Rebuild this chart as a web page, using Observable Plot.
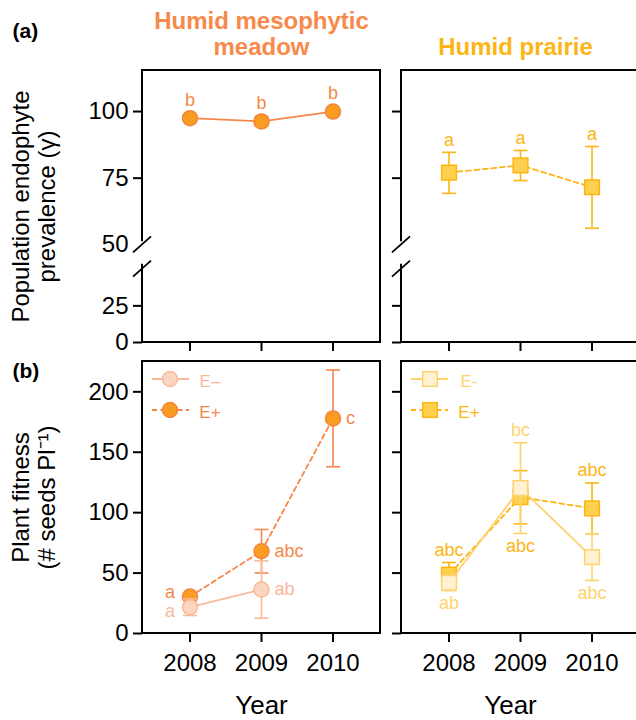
<!DOCTYPE html>
<html><head><meta charset="utf-8">
<script src="https://cdn.jsdelivr.net/npm/d3@7"></script>
<script src="https://cdn.jsdelivr.net/npm/@observablehq/plot@0.6"></script>
<style>
html,body{margin:0;padding:0;background:#fff;overflow:hidden}
#fig{position:relative;width:636px;height:720px;overflow:hidden}
#fig svg{position:absolute}
</style></head><body><div id="fig"></div>
<script>
// ---------------- data ----------------
const years = [2008, 2009, 2010];
const panelTitleMeadow = ["Humid mesophytic", "meadow"];
const panelTitlePrairie = "Humid prairie";
const prevalenceTicks = [0, 25, 50, 75, 100];
const fitnessTicks = [0, 50, 100, 150, 200];
const seriesLabelsMeadow = ["E\u2013", "E+"];
const seriesLabelsPrairie = ["E-", "E+"];

// (a) population endophyte prevalence
const meadowPrev = [97.5, 96.3, 100.0];
const meadowPrevErr = [1.0, 1.8, 0.0];
const meadowPrevLetters = ["b", "b", "b"];
const prairiePrev = [77.1, 79.8, 71.6];
const prairiePrevLo = [69.3, 74.1, 56.2];
const prairiePrevHi = [84.7, 85.4, 86.9];
const prairiePrevLetters = ["a", "a", "a"];

// (b) plant fitness
const meadowFitYearsEminus = [2008, 2009];
const meadowFitEminus = [21.8, 36.4];
const meadowFitEminusErr = [6.9, 23.7];
const meadowFitEminusLetters = ["a", "ab"];
const meadowFitEplus = [30.6, 68.1, 178.0];
const meadowFitEplusErr = [2.0, 18.0, 40.0];
const meadowFitEplusLetters = ["a", "abc", "c"];
const prairieFitEminus = [42.0, 120.3, 63.2];
const prairieFitEminusErr = [6.5, 37.5, 19.3];
const prairieFitEminusLetters = ["ab", "bc", "abc"];
const prairieFitEplus = [48.8, 112.8, 103.5];
const prairieFitEplusErr = [10.0, 22.0, 21.0];
const prairieFitEplusLetters = ["abc", "abc", "abc"];

// ---------------- styling ----------------
const FONT = '"Liberation Sans", Arial, Helvetica, sans-serif';
const C = {
  meadowTitle: "#F7894A",
  mPlus: "#F5874A", mPlusFill: "#FA9B22", mPlusStroke: "#F5843C",
  mMinus: "#F9B898", mMinusFill: "#FDD6C2",
  prairieTitle: "#FDB515",
  pPlus: "#FDB515", pPlusFill: "#FFD04E",
  pMinus: "#FDD36E", pMinusFill: "#FFF1D2"
};
const DASH = "5,3.5";
const xDomain = [2007.336, 2010.664];
const brkValue = 50;
const prevY = {type: "linear", domain: [0, brkValue - 0.001, brkValue, 115.4], range: [342, 268.7, 244.3, 70]};
const noLabel = () => "";

// placement of significance letters (layout, not data)
const placeMeadowPlus = ["left", "right", "right"];
const placeMeadowMinus = ["left", "right"];
const placePrairiePlus = ["above", "below", "above"];
const placePrairieMinus = ["below", "above", "below"];

const capSymbol = {draw(ctx, size) { const r = Math.sqrt(size / Math.PI); ctx.moveTo(-r, 0); ctx.lineTo(r, 0); }};

function rows(xs, vals, lo, hi, letters) {
  return xs.map((year, i) => ({i, year, value: vals[i], lo: lo[i], hi: hi[i], letter: letters[i]}));
}
function symRows(xs, vals, err, letters) {
  return rows(xs, vals, vals.map((v, i) => v - err[i]), vals.map((v, i) => v + err[i]), letters);
}

function frameMark({right = true, brk = false} = {}) {
  return (index, scales, values, dims) => {
    const {width, height, marginLeft: ml, marginRight: mr, marginTop: mt, marginBottom: mb} = dims;
    const x0 = ml, x1 = width - mr, y0 = mt, y1 = height - mb;
    const g = d3.create("svg:g").attr("fill", "none").attr("stroke", "#000").attr("stroke-width", 2).attr("stroke-linecap", "square");
    const seg = (a, b, c, d) => g.append("line").attr("x1", a).attr("y1", b).attr("x2", c).attr("y2", d);
    seg(x0, y0, x1, y0);
    seg(x0, y1, x1, y1);
    if (right) seg(x1, y0, x1, y1);
    if (brk) {
      const yU = scales.y(brkValue), yL = scales.y(brkValue - 0.001);
      seg(x0, y0, x0, yU - 4);
      seg(x0, yL - 4, x0, y1);
      g.append("line").attr("x1", x0 - 9).attr("y1", yU + 8).attr("x2", x0 + 9).attr("y2", yU - 8).attr("stroke-linecap", "butt").attr("stroke-width", 1.8);
      g.append("line").attr("x1", x0 - 9).attr("y1", yL + 8).attr("x2", x0 + 9).attr("y2", yL - 8).attr("stroke-linecap", "butt").attr("stroke-width", 1.8);
    } else seg(x0, y0, x0, y1);
    return g.node();
  };
}

function legendMark(items, square) {
  return (index, scales, values, dims) => {
    const g = d3.create("svg:g");
    const x0 = dims.marginLeft, y0 = dims.marginTop;
    items.forEach((it, k) => {
      const y = y0 + 18 + k * 31;
      g.append("line").attr("x1", x0 + 10).attr("x2", x0 + 47).attr("y1", y).attr("y2", y)
        .attr("stroke", it.line).attr("stroke-width", 1.8).attr("stroke-dasharray", it.dash || null);
      if (square) {
        g.append("rect").attr("x", x0 + 29 - 7.3).attr("y", y - 7.3).attr("width", 14.6).attr("height", 14.6)
          .attr("fill", it.fill).attr("stroke", it.stroke).attr("stroke-width", 1.5);
      } else {
        g.append("circle").attr("cx", x0 + 28).attr("cy", y).attr("r", 7.5)
          .attr("fill", it.fill).attr("stroke", it.stroke).attr("stroke-width", 1.5);
      }
      g.append("text").attr("x", x0 + 68).attr("y", y + 2).attr("dy", "0.35em").attr("font-size", 17)
        .attr("font-family", FONT).attr("fill", it.text).text(it.label);
    });
    return g.node();
  };
}

// series marks (error bars, line, markers)
function seriesMarks(data, {color, fill, stroke, dash, square}) {
  return [
    Plot.ruleX(data, {x: "year", y1: "lo", y2: "hi", stroke: color, strokeWidth: 1.6}),
    Plot.dot(data, {x: "year", y: "lo", symbol: capSymbol, r: 7, fill: "none", stroke: color, strokeWidth: 1.6}),
    Plot.dot(data, {x: "year", y: "hi", symbol: capSymbol, r: 7, fill: "none", stroke: color, strokeWidth: 1.6}),
    Plot.line(data, {x: "year", y: "value", stroke: color, strokeWidth: 1.8, strokeDasharray: dash || null}),
    Plot.dot(data, {x: "year", y: "value", symbol: square ? "square" : "circle", r: square ? 8.3 : 7.5, fill, stroke, strokeWidth: 1.5})
  ];
}

// letters, with placement rules
function letterMarks(data, place, color, all, leftDy = 0) {
  const top = (d) => d3.max(all, (s) => { const r = s.find((e) => e.year === d.year); return r ? r.hi : -Infinity; });
  const bot = (d) => d3.min(all, (s) => { const r = s.find((e) => e.year === d.year); return r ? r.lo : Infinity; });
  const common = {x: "year", text: "letter", fill: color, fontSize: 18, fontFamily: FONT, lineAnchor: "middle"};
  return [
    Plot.text(data, {...common, filter: (d) => place[d.i] === "above", y: top, dy: -12.5, textAnchor: "middle"}),
    Plot.text(data, {...common, filter: (d) => place[d.i] === "below", y: bot, dy: 13, textAnchor: "middle"}),
    Plot.text(data, {...common, filter: (d) => place[d.i] === "left", y: "value", dx: -15, dy: leftDy, textAnchor: "end"}),
    Plot.text(data, {...common, filter: (d) => place[d.i] === "right", y: "value", dx: 13, textAnchor: "start"})
  ];
}

const baseStyle = {fontFamily: FONT, color: "#000", background: "transparent", overflow: "visible", maxWidth: "none"};
const axisCommon = {tickSize: 9, strokeWidth: 2, fontSize: 24, label: null, fontFamily: FONT};
const titleText = (s, opts) => Plot.text([s], {text: (d) => d, fontFamily: FONT, lineAnchor: "middle", fill: "#000", ...opts});

// ---------------- data tables ----------------
const dMeadowPrev = symRows(years, meadowPrev, meadowPrevErr, meadowPrevLetters);
const dPrairiePrev = rows(years, prairiePrev, prairiePrevLo, prairiePrevHi, prairiePrevLetters);
const dMPlus = symRows(years, meadowFitEplus, meadowFitEplusErr, meadowFitEplusLetters);
const dMMinus = symRows(meadowFitYearsEminus, meadowFitEminus, meadowFitEminusErr, meadowFitEminusLetters);
const dPPlus = symRows(years, prairieFitEplus, prairieFitEplusErr, prairieFitEplusLetters);
const dPMinus = symRows(years, prairieFitEminus, prairieFitEminusErr, prairieFitEminusLetters);

// ---------------- (a) meadow ----------------
const tl = Plot.plot({
  width: 390, height: 352, marginLeft: 142, marginRight: 10, marginTop: 70, marginBottom: 10,
  style: baseStyle,
  x: {domain: xDomain},
  y: prevY,
  marks: [
    frameMark({right: true, brk: true}),
    Plot.axisY({...axisCommon, ticks: prevalenceTicks.filter((t) => t !== brkValue), tickPadding: 5, tickFormat: (d) => String(d)}),
    Plot.axisY({...axisCommon, ticks: [brkValue], tickSize: 0, tickPadding: 14, tickFormat: (d) => String(d)}),
    Plot.axisX({...axisCommon, ticks: years, tickFormat: noLabel}),
    ...seriesMarks(dMeadowPrev, {color: C.mPlus, fill: C.mPlusFill, stroke: C.mPlusStroke}),
    Plot.text(dMeadowPrev, {x: "year", y: "value", text: "letter", dy: -18, fill: C.mPlus, fontSize: 18, fontFamily: FONT, lineAnchor: "middle"}),
    titleText(panelTitleMeadow[0], {frameAnchor: "top", textAnchor: "middle", dy: -48.7, fill: C.meadowTitle, fontSize: 24, fontWeight: "bold"}),
    titleText(panelTitleMeadow[1], {frameAnchor: "top", textAnchor: "middle", dy: -22.7, fill: C.meadowTitle, fontSize: 24, fontWeight: "bold"}),
    titleText("(a)", {frameAnchor: "top-left", textAnchor: "start", dx: -130, dy: -39, fontSize: 21, fontWeight: "bold"}),
    titleText("Population endophyte", {frameAnchor: "left", textAnchor: "middle", rotate: -90, dx: -121.5, fontSize: 24}),
    titleText("prevalence (\u03B3)", {frameAnchor: "left", textAnchor: "middle", rotate: -90, dx: -95.5, fontSize: 24})
  ]
});

// ---------------- (a) prairie ----------------
const tr = Plot.plot({
  width: 249, height: 352, marginLeft: 11, marginRight: 0, marginTop: 70, marginBottom: 10,
  style: baseStyle,
  x: {domain: xDomain},
  y: prevY,
  marks: [
    frameMark({right: false, brk: true}),
    Plot.axisY({...axisCommon, ticks: prevalenceTicks.filter((t) => t !== brkValue), tickFormat: noLabel}),
    Plot.axisX({...axisCommon, ticks: years, tickFormat: noLabel}),
    ...seriesMarks(dPrairiePrev, {color: C.pPlus, fill: C.pPlusFill, stroke: C.pPlus, dash: DASH, square: true}),
    Plot.text(dPrairiePrev, {x: "year", y: "hi", text: "letter", dy: -12.5, fill: C.pPlus, fontSize: 18, fontFamily: FONT, lineAnchor: "middle"}),
    titleText(panelTitlePrairie, {frameAnchor: "top", textAnchor: "middle", dx: -5, dy: -22.7, fill: C.prairieTitle, fontSize: 24, fontWeight: "bold"})
  ]
});

// ---------------- (b) meadow ----------------
const bl = Plot.plot({
  width: 390, height: 368, marginLeft: 142, marginRight: 10, marginTop: 9, marginBottom: 87,
  style: baseStyle,
  x: {domain: xDomain},
  y: {domain: [0, 225.1]},
  marks: [
    frameMark({right: true}),
    Plot.axisY({...axisCommon, ticks: fitnessTicks, tickPadding: 5, tickFormat: (d) => String(d)}),
    Plot.axisX({...axisCommon, ticks: years, tickPadding: 11, tickFormat: (d) => String(d)}),
    ...seriesMarks(dMPlus, {color: C.mPlus, fill: C.mPlusFill, stroke: C.mPlusStroke, dash: DASH}),
    ...seriesMarks(dMMinus, {color: C.mMinus, fill: C.mMinusFill, stroke: C.mMinus}),
    ...letterMarks(dMPlus, placeMeadowPlus, C.mPlus, [dMPlus, dMMinus], -4),
    ...letterMarks(dMMinus, placeMeadowMinus, C.mMinus, [dMPlus, dMMinus], 4.5),
    legendMark([
      {label: seriesLabelsMeadow[0], line: C.mMinus, fill: C.mMinusFill, stroke: C.mMinus, text: C.mMinus},
      {label: seriesLabelsMeadow[1], line: C.mPlus, fill: C.mPlusFill, stroke: C.mPlusStroke, text: C.mPlus, dash: DASH}
    ], false),
    titleText("(b)", {frameAnchor: "top-left", textAnchor: "start", dx: -130, dy: 10, fontSize: 21, fontWeight: "bold"}),
    titleText("Plant fitness", {frameAnchor: "left", textAnchor: "middle", rotate: -90, dx: -121.5, fontSize: 24}),
    titleText("(# seeds Pl\u207B\u00B9)", {frameAnchor: "left", textAnchor: "middle", rotate: -90, dx: -95.5, fontSize: 24}),
    titleText("Year", {frameAnchor: "bottom", textAnchor: "middle", dy: 72, fontSize: 26})
  ]
});

// ---------------- (b) prairie ----------------
const br = Plot.plot({
  width: 249, height: 368, marginLeft: 11, marginRight: 0, marginTop: 9, marginBottom: 87,
  style: baseStyle,
  x: {domain: xDomain},
  y: {domain: [0, 225.1]},
  marks: [
    frameMark({right: false}),
    Plot.axisY({...axisCommon, ticks: fitnessTicks, tickFormat: noLabel}),
    Plot.axisX({...axisCommon, ticks: years, tickPadding: 11, tickFormat: (d) => String(d)}),
    ...seriesMarks(dPPlus, {color: C.pPlus, fill: C.pPlusFill, stroke: C.pPlus, dash: DASH, square: true}),
    ...seriesMarks(dPMinus, {color: C.pMinus, fill: C.pMinusFill, stroke: C.pMinus, square: true}),
    ...letterMarks(dPPlus, placePrairiePlus, C.pPlus, [dPPlus, dPMinus]),
    ...letterMarks(dPMinus, placePrairieMinus, C.pMinus, [dPPlus, dPMinus]),
    legendMark([
      {label: seriesLabelsPrairie[0], line: C.pMinus, fill: C.pMinusFill, stroke: C.pMinus, text: C.pMinus},
      {label: seriesLabelsPrairie[1], line: C.pPlus, fill: C.pPlusFill, stroke: C.pPlus, text: C.pPlus, dash: DASH}
    ], true),
    titleText("Year", {frameAnchor: "bottom", textAnchor: "middle", dx: -10, dy: 72, fontSize: 26})
  ]
});

const fig = document.getElementById("fig");
function place(svg, left, top) { svg.style.position = "absolute"; svg.style.left = left + "px"; svg.style.top = top + "px"; fig.appendChild(svg); }
place(tl, 0, 0);
place(tr, 390, 0);
place(bl, 0, 352);
place(br, 390, 352);
</script></body></html>
